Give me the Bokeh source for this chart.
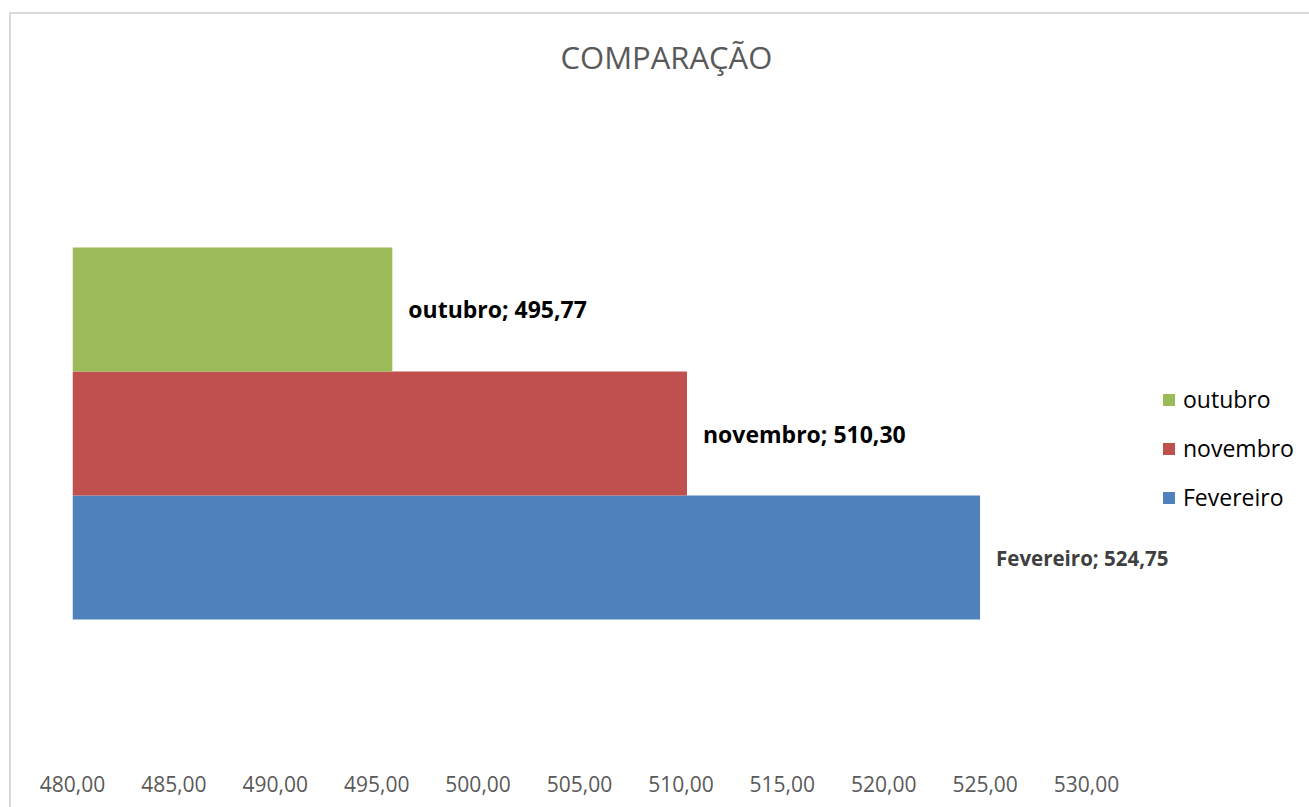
from bokeh.plotting import figure
from bokeh.models import (Range1d, ColumnDataSource, Legend, LegendItem, FixedTicker,
                          CustomJSTickFormatter, Title, InlineStyleSheet)
from bokeh.core.properties import value
from bokeh.embed import file_html
from bokeh.resources import INLINE

# ---- data ----
series = ["Fevereiro", "novembro", "outubro"]
values = [524.75, 510.30, 495.77]
colors = ["#4F81BD", "#C0504D", "#9BBB59"]
tick_values = [480, 485, 490, 495, 500, 505, 510, 515, 520, 525, 530]
title_text = "COMPARAÇÃO"

X_MIN, X_MAX = 480, 540.6
FONT = "Open Sans"

p = figure(width=1301, height=799, output_backend="svg", toolbar_location=None,
           x_range=Range1d(X_MIN, X_MAX), y_range=Range1d(-1.677, 3.677),
           y_axis_location=None, min_border_left=72, min_border_right=0,
           min_border_top=101, min_border_bottom=34)
p.title = None
p.add_layout(Title(text=title_text, text_font=FONT, text_font_size="31px",
                   text_font_style="normal", text_color="#595959", align="left",
                   offset=488, standoff=48), "above")
p.outline_line_color = None
p.grid.visible = False
p.background_fill_color = "white"
p.border_fill_color = "white"

renderers = {}
for i, (name, v, c) in enumerate(zip(series, values, colors)):
    src = ColumnDataSource(dict(y=[i], right=[v], left=[X_MIN]))
    r = p.hbar(y="y", left="left", right="right", height=1, source=src,
               fill_color=c, line_color=None)
    renderers[name] = r

# data labels
big = [k for k in range(len(series)) if series[k] != "Fevereiro"]
small = [k for k in range(len(series)) if series[k] == "Fevereiro"]
def lab(k):
    return f"{series[k]}; {values[k]:.2f}".replace(".", ",")
src_big = ColumnDataSource(dict(x=[values[k] for k in big], y=big, t=[lab(k) for k in big]))
src_small = ColumnDataSource(dict(x=[values[k] for k in small], y=small, t=[lab(k) for k in small]))
p.text(x="x", y="y", text="t", source=src_big, x_offset=16, text_baseline="middle",
       text_font=value(FONT), text_font_style="bold", text_font_size="23px",
       text_color="#000000")
p.text(x="x", y="y", text="t", source=src_small, x_offset=16, text_baseline="middle",
       text_font=value(FONT), text_font_style="bold", text_font_size="20.5px",
       text_color="#404040")

# x axis
ax = p.xaxis[0]
ax.ticker = FixedTicker(ticks=tick_values)
ax.formatter = CustomJSTickFormatter(code="return tick.toFixed(2).replace('.', ',');")
ax.axis_line_color = None
ax.major_tick_line_color = None
ax.minor_tick_line_color = None
ax.major_tick_out = 0
ax.major_label_standoff = 10
ax.major_label_text_font = FONT
ax.major_label_text_font_size = "21px"
ax.major_label_text_color = "#595959"

# legend
items = [LegendItem(label=n, renderers=[renderers[n]]) for n in ["outubro", "novembro", "Fevereiro"]]
legend = Legend(items=items, location=(1089, 252), glyph_width=15, glyph_height=15,
                label_standoff=7, spacing=17, padding=0, margin=0,
                label_text_font=FONT, label_text_font_size="23px",
                label_text_color="#000000", border_line_color=None,
                background_fill_alpha=0)
p.add_layout(legend)

# chart border (light grey frame around the whole chart)
p.stylesheets = [InlineStyleSheet(css="""
:host { position: relative; }
:host::after {
  content: ""; position: absolute; left: 9px; top: 12px; right: -20px; bottom: -20px;
  border-top: 2px solid #d9d9d9; border-left: 2px solid #d9d9d9;
  pointer-events: none; z-index: 10;
}
""")]

open("out.html", "w").write(file_html(p, INLINE))
